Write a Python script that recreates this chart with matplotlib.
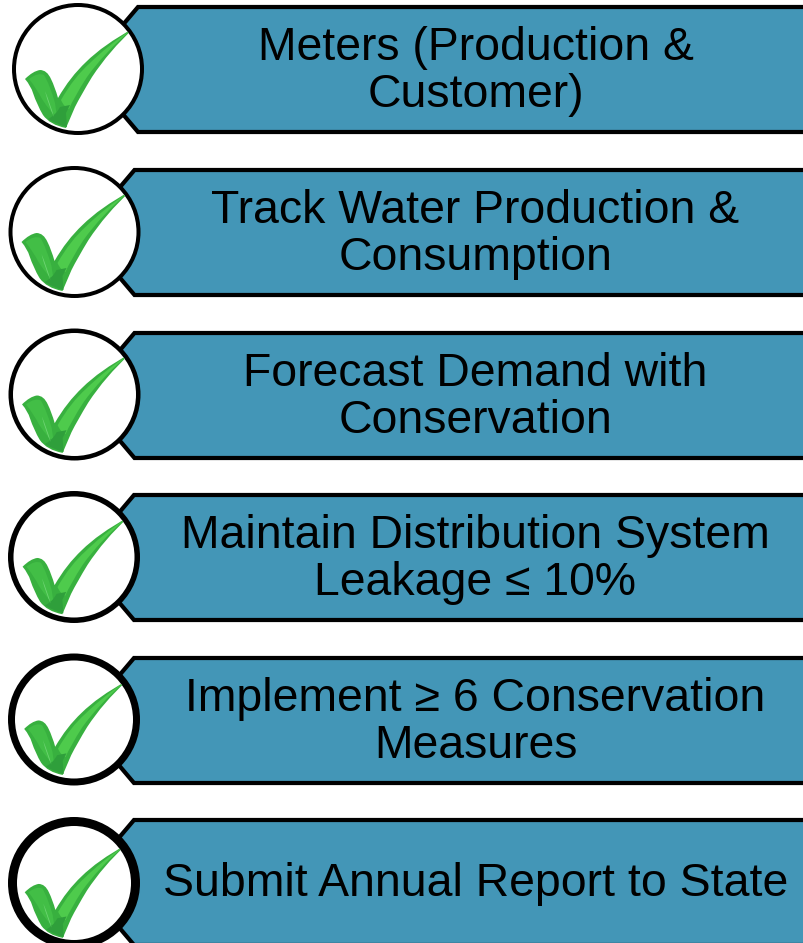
import matplotlib
matplotlib.use("Agg")
import matplotlib.pyplot as plt
from matplotlib.patches import Circle, Polygon, PathPatch
from matplotlib.path import Path

labels = [
    "Meters (Production &\nCustomer)",
    "Track Water Production &\nConsumption",
    "Forecast Demand with\nConservation",
    "Maintain Distribution System\nLeakage ≤ 10%",
    "Implement ≥ 6 Conservation\nMeasures",
    "Submit Annual Report to State",
]
box_tops = [7, 170, 333, 495, 658, 820]
circle_x = [78, 74.5, 74.5, 74, 74, 74]
circle_y = [69, 232, 394.5, 557, 719.5, 883]
ring_px = [4, 4, 4.5, 5.5, 7, 9]
tick_scale = [1, 1, 0.99, 0.97, 0.94, 0.93]

W, H = 804, 943
PX = 72 / 100
BOX_H = 125
FILL = "#4396B7"

fig = plt.figure(figsize=(W / 100, H / 100), dpi=100)
ax = fig.add_axes([0, 0, 1, 1])
ax.set_xlim(0, W)
ax.set_ylim(H, 0)
ax.axis("off")

C = Path.CURVE3
M, L, Z = Path.MOVETO, Path.LINETO, Path.CLOSEPOLY


def shape(cx, cy, s, pts, codes, color, clip, z):
    verts = [(cx + s * x, cy + s * y) for x, y in pts]
    p = PathPatch(Path(verts, codes), fc=color, ec="none", zorder=z)
    ax.add_patch(p)
    p.set_clip_path(clip)
    return p


BODY = [(-53, 10), (-45, 2), (-38, 1), (-31, 1), (-27, 10), (-23, 18), (-20, 29),
        (-8, 8), (8, -7), (25, -24), (56, -41), (31, -18), (14, 8), (3, 26), (-3, 38),
        (-12, 59), (-28, 56), (-35, 46), (-41, 36), (-45, 24), (-47, 17), (-53, 10), (-53, 10)]
BODY_C = [M, C, C, C, C, C, C, C, C, C, C, C, C, C, C, L, C, C, C, C, C, C, Z]
ARM = [(-17, 31), (-4, 8), (12, -6), (28, -22), (54, -40), (26, -16), (9, 8), (-4, 28),
       (-9, 40), (-14, 38), (-17, 31), (-17, 31)]
ARM_C = [M, C, C, C, C, C, C, C, C, C, C, Z]
SHORT = [(-49, 10), (-40, 3), (-34, 6), (-28, 16), (-23, 34), (-21, 48), (-27, 44),
         (-36, 30), (-41, 20), (-49, 10)]
SHORT_C = [M, C, C, C, C, L, C, C, C, Z]
LOWER = [(-8, 36), (-12, 44), (-11, 58), (-20, 56), (-30, 50), (-22, 46), (-18, 38), (-8, 36)]
LOWER_C = [M, L, L, C, C, C, C, Z]
GLINT = [(-33, 22), (-28, 34), (-24, 48), (-29, 38), (-33, 22)]
GLINT_C = [M, C, C, C, C]

for label, top, cx, cy, ring, s in zip(labels, box_tops, circle_x, circle_y, ring_px, tick_scale):
    bot = top + BOX_H
    corner = cx + 60
    ax.add_patch(Polygon(
        [(W + 20, top), (corner, top), (cx + 7, top + BOX_H / 2), (corner, bot), (W + 20, bot)],
        closed=True, fc=FILL, ec="black", lw=4.2 * PX, joinstyle="miter", zorder=1))

    r = 66 - ring / 2
    ax.add_patch(Circle((cx, cy), r, fc="white", ec="black", lw=ring * PX, zorder=2))
    inner = Circle((cx, cy), r - ring / 2, transform=ax.transData)

    shape(cx, cy, s, BODY, BODY_C, "#38B03F", inner, 4)
    shape(cx, cy, s, ARM, ARM_C, "#4ECB4C", inner, 5)
    shape(cx, cy, s, SHORT, SHORT_C, "#42BE46", inner, 5)
    shape(cx, cy, s, LOWER, LOWER_C, "#2F9F3B", inner, 6)
    shape(cx, cy, s, GLINT, GLINT_C, "#6FD574", inner, 6)

    ax.text(475.5, top + BOX_H / 2 + 2, label, ha="center", va="center",
            family="Liberation Sans", fontsize=33.4, color="black",
            linespacing=1.09, zorder=7)

fig.savefig("out.png", dpi=100, facecolor="white")
